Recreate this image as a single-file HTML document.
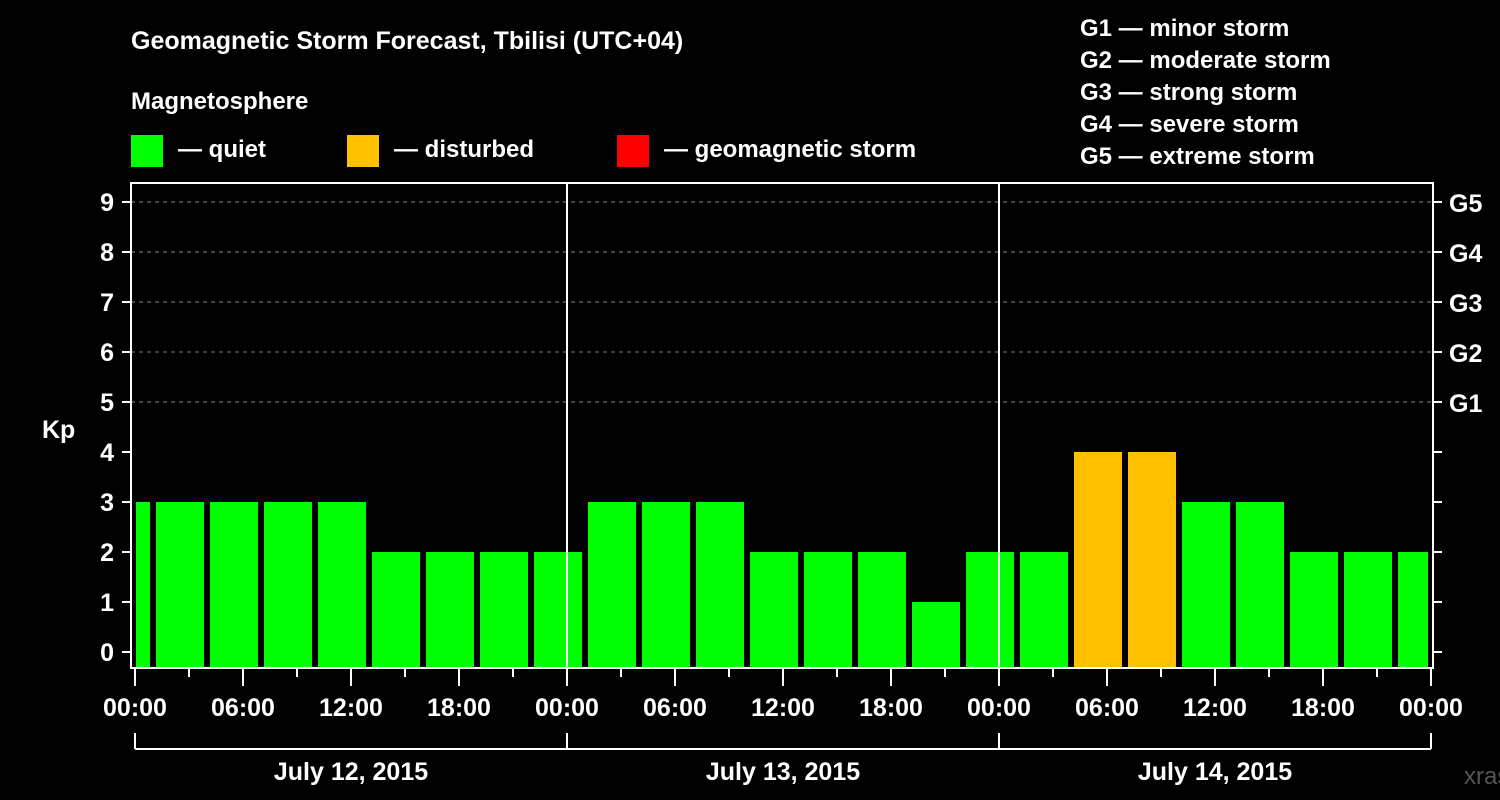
<!DOCTYPE html>
<html><head><meta charset="utf-8"><style>
html,body{margin:0;padding:0;background:#000;}
svg{display:block;font-family:"Liberation Sans",sans-serif;font-weight:bold;}
</style></head><body>
<svg id="chart" width="1500" height="800" viewBox="0 0 1500 800">
<rect width="1500" height="800" fill="#000"/>
<text x="131" y="49" font-size="25" fill="#fff">Geomagnetic Storm Forecast, Tbilisi (UTC+04)</text>
<text x="131" y="109" font-size="24" fill="#fff">Magnetosphere</text>
<g><rect x="131" y="135" width="32" height="32" fill="#00ff00"/><text x="178" y="157" font-size="24" fill="#fff">— quiet</text></g>
<g><rect x="347" y="135" width="32" height="32" fill="#ffc000"/><text x="394" y="157" font-size="24" fill="#fff">— disturbed</text></g>
<g><rect x="617" y="135" width="32" height="32" fill="#ff0000"/><text x="664" y="157" font-size="24" fill="#fff">— geomagnetic storm</text></g>
<g font-size="24" fill="#fff">
<text x="1080" y="36">G1 — minor storm</text>
<text x="1080" y="68">G2 — moderate storm</text>
<text x="1080" y="100">G3 — strong storm</text>
<text x="1080" y="132">G4 — severe storm</text>
<text x="1080" y="164">G5 — extreme storm</text>
</g>
<text x="42" y="438" font-size="25" fill="#fff">Kp</text>
<text x="1464" y="784" font-size="24" fill="#555" font-weight="normal">xras.ru</text>
<g id="grid"></g><g id="bars"></g><g id="axes"></g>
</svg>
<script>
const kpValues=[3,3,3,3,3,2,2,2,2,3,3,3,2,2,2,1,2,2,4,4,3,3,2,2,2];
const barStartHours=[-2,1,4,7,10,13,16,19,22,25,28,31,34,37,40,43,46,49,52,55,58,61,64,67,70];
const yTicks=[0,1,2,3,4,5,6,7,8,9];
const gLabels=["G1","G2","G3","G4","G5"];
const xTickLabels=["00:00","06:00","12:00","18:00","00:00","06:00","12:00","18:00","00:00","06:00","12:00","18:00","00:00"];
const dayLabels=["July 12, 2015","July 13, 2015","July 14, 2015"];
const NS="http://www.w3.org/2000/svg";
const L=131,R=1433,T=183,B=668,X0=135,PH=18;
const xs=h=>X0+h*PH, ys=k=>652-k*50;
function mk(t,a,p){const e=document.createElementNS(NS,t);for(const k in a)e.setAttribute(k,a[k]);p.appendChild(e);return e;}
const grid=document.getElementById('grid'),bars=document.getElementById('bars'),axes=document.getElementById('axes');
yTicks.forEach(k=>{if(k>=5){const l=mk('line',{x1:L,x2:R,y1:ys(k),y2:ys(k),stroke:'#888','stroke-dasharray':'4,4','stroke-width':1},grid);

}});
kpValues.forEach((v,i)=>{const h=barStartHours[i];let x1=Math.max(xs(h)+3,L+5),x2=Math.min(xs(h+3)-3,R-5);
const c=v>=5?'#ff0000':(v>=4?'#ffc000':'#00ff00');
const r=mk('rect',{x:x1,y:ys(v),width:x2-x1,height:B-ys(v),fill:c},bars);

});
// day separators
[1,2].forEach(d=>{mk('line',{x1:xs(24*d),x2:xs(24*d),y1:T,y2:B,stroke:'#fff','stroke-width':2},axes);});
const fr=mk('rect',{x:L,y:T,width:R-L,height:B-T,fill:'none',stroke:'#fff','stroke-width':2},axes);


yTicks.forEach(k=>{mk('line',{x1:L-9,x2:L,y1:ys(k),y2:ys(k),stroke:'#fff','stroke-width':2},axes);
mk('line',{x1:R,x2:R+9,y1:ys(k),y2:ys(k),stroke:'#fff','stroke-width':2},axes);
const t=mk('text',{x:L-17,y:ys(k)+9,'text-anchor':'end','font-size':25,fill:'#fff'},axes);t.textContent=k;


if(k>=5){const g=mk('text',{x:1449,y:ys(k)+10,'font-size':25,fill:'#fff'},axes);g.textContent=gLabels[k-5];

}});
for(let h=0;h<=72;h+=3){const long=h%6===0;mk('line',{x1:xs(h),x2:xs(h),y1:B,y2:long?686:677,stroke:'#fff','stroke-width':2},axes);}
xTickLabels.forEach((s,i)=>{const t=mk('text',{x:xs(i*6),y:716,'text-anchor':'middle','font-size':25,fill:'#fff'},axes);t.textContent=s;

});
mk('line',{x1:xs(0),x2:xs(72),y1:749,y2:749,stroke:'#fff','stroke-width':2},axes);
for(let d=0;d<=3;d++)mk('line',{x1:xs(24*d),x2:xs(24*d),y1:733,y2:749,stroke:'#fff','stroke-width':2},axes);
dayLabels.forEach((s,i)=>{const t=mk('text',{x:xs(24*i+12),y:780,'text-anchor':'middle','font-size':25,fill:'#fff'},axes);t.textContent=s;

});
</script>
</body></html>
